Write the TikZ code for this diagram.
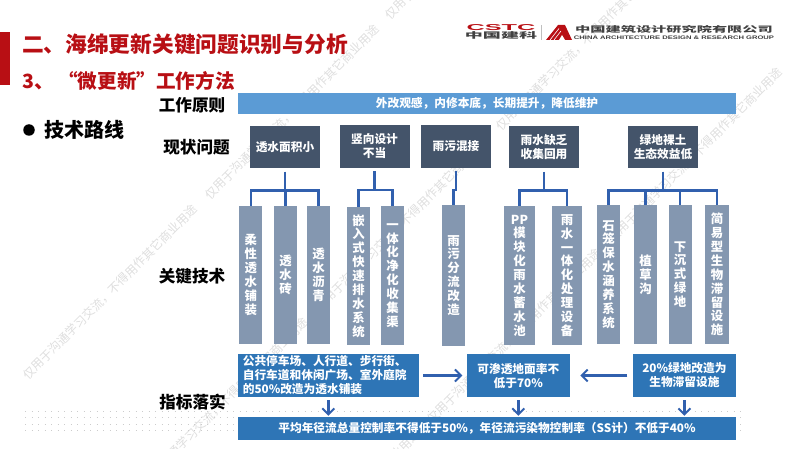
\documentclass[tikz,border=0pt]{standalone}
\usepackage{fontspec}
\setmainfont{Noto Sans CJK SC}
\newfontfamily\logofont{Liberation Sans}
\usetikzlibrary{arrows.meta}
\definecolor{titlered}{HTML}{B80F14}
\definecolor{barblue}{HTML}{5B9BD5}
\definecolor{slatebox}{HTML}{44546A}
\definecolor{greybox}{HTML}{8497B0}
\definecolor{deepblue}{HTML}{2E75B6}
\definecolor{linkblue}{HTML}{3160AE}
\begin{document}
\begin{tikzpicture}[x=1pt,y=-1pt,
  sizedtext/.style={font=\fontsize{#1}{14}\selectfont\bfseries},
  rowlabel/.style={sizedtext=16.6,text=black,inner sep=0},
  probox/.style={fill=slatebox,text=white,align=center,inner sep=0,sizedtext=11.7,minimum width=70,minimum height=42.5},
  techbox/.style={fill=greybox,text=white,align=center,inner sep=0,minimum height=138.5,font=\fontsize{12.4}{13.9}\selectfont\bfseries},
  goalbox/.style={fill=deepblue,text=white,inner sep=0,minimum height=43.5,sizedtext=11.7},
  tree/.style={draw=linkblue,line width=2.4pt,shorten <=3.5pt},
  goalarrow/.style={draw=linkblue,line width=2.5pt,-{Straight Barb[length=6pt,width=12pt,line width=2pt]}}]
\useasboundingbox (0,0) rectangle (800,449);

\begin{scope}
\clip (0,0) rectangle (800,449);
\foreach \wx/\wy [count=\i] in {25/377,207/197,387/17,136/490,317/309,498/128,248/602,429/421,610/240}
  \node[rotate=45,anchor=west,inner sep=0,text=black!13,font=\fontsize{12}{14}\selectfont] (mark\i) at (\wx,\wy) {仅用于沟通学习交流，不得用作其它商业用途};
\end{scope}
\foreach \y in {411,417.5,424,430}
  \draw[black!20,line width=0.7pt,dash pattern=on 0.7pt off 5.8pt] (25,\y) -- (742,\y);

\fill[titlered] (0,32) rectangle (10,85);
\node[anchor=west,inner sep=0,text=titlered,sizedtext=21.7] (title) at (22,44.5) {二、海绵更新关键问题识别与分析};
\node[anchor=west,inner sep=0,text=titlered,sizedtext=19.6] (subtitle) at (22,81) {3、 “微更新”工作方法};
\node[circle,fill=black,inner sep=0,minimum size=11.5] (bullet) at (29,130) {};
\node[anchor=west,inner sep=0,sizedtext=20] (route) at (44,130) {技术路线};

\node[rowlabel] (rule) at (192,105) {工作原则};
\node[rowlabel] (issue) at (196.5,147) {现状问题};
\node[rowlabel] (tech) at (192,276) {关键技术};
\node[rowlabel] (goal) at (192.5,402) {指标落实};

\node[fill=barblue,text=white,inner sep=0,minimum width=498,minimum height=21.5,sizedtext=11.7] (principle) at (487,103.7) {外改观感，内修本底，长期提升，降低维护};

\node[probox] (p1) at (285,147) {透水面积小};
\node[probox] (p2) at (374.5,146.5) {竖向设计\\不当};
\node[probox] (p3) at (456,146.5) {雨污混接};
\node[probox] (p4) at (544,147) {雨水缺乏\\收集回用};
\node[probox] (p5) at (663,147) {绿地裸土\\生态效益低};

\node[techbox,minimum width=23] (t1) at (250.7,275) {柔\\性\\透\\水\\铺\\装};
\node[techbox,minimum width=23] (t2) at (285.5,275) {透\\水\\砖};
\node[techbox,minimum width=23] (t3) at (318.5,275) {透\\水\\沥\\青};
\node[techbox,minimum width=23] (t4) at (358.5,276) {嵌\\入\\式\\快\\速\\排\\水\\系\\统};
\node[techbox,minimum width=23] (t5) at (392.5,275.5) {一\\体\\化\\净\\化\\收\\集\\渠};
\node[techbox,minimum width=23,minimum height=141] (t6) at (453.5,275.5) {雨\\污\\分\\流\\改\\造};
\node[techbox,minimum width=31] (t7) at (519.5,275.5) {PP\\模\\块\\化\\雨\\水\\蓄\\水\\池};
\node[techbox,minimum width=30] (t8) at (567,275.5) {雨\\水\\一\\体\\化\\处\\理\\设\\备};
\node[techbox,minimum width=23] (t9) at (608.5,274.5) {石\\笼\\保\\水\\涵\\养\\系\\统};
\node[techbox,minimum width=23] (t10) at (645.5,274.5) {植\\草\\沟};
\node[techbox,minimum width=23] (t11) at (680,274.5) {下\\沉\\式\\绿\\地};
\node[techbox,minimum width=24] (t12) at (717,274.5) {简\\易\\型\\生\\物\\滞\\留\\设\\施};

\foreach \leaf in {t1,t2,t3} \draw[tree] (p1.south) -- ++(0,22) -| (\leaf.north);
\foreach \leaf in {t4,t5} \draw[tree] (p2.south) -- ++(0,22) -| (\leaf.north);
\draw[tree] (p3.south) -- ++(0,22) -| (t6.north);
\foreach \leaf in {t7,t8} \draw[tree] (p4.south) -- ++(0,22) -| (\leaf.north);
\foreach \leaf in {t9,t10,t11,t12} \draw[tree] (p5.south) -- ++(0,22) -| (\leaf.north);

\node[goalbox,minimum width=181,align=left,text width=171] (g1) at (328.3,375.5) {公共停车场、人行道、步行街、\\自行车道和休闲广场、室外庭院\\的50\%改造为透水铺装};
\node[goalbox,minimum width=103.5,align=center] (g2) at (518.3,375.5) {可渗透地面率不\\低于70\%};
\node[goalbox,minimum width=103.5,align=center] (g3) at (684.4,375.5) {20\%绿地改造为\\生物滞留设施};
\node[fill=deepblue,text=white,inner sep=0,minimum width=498,minimum height=23,sizedtext=11.7] (target) at (487,428.5) {平均年径流总量控制率不得低于50\%，年径流污染物控制率（SS计）不低于40\%};

\draw[goalarrow,shorten <=4pt,shorten >=4pt] (g1.east) -- (g2.west);
\draw[goalarrow,shorten <=5pt,shorten >=10pt] (g3.west) -- (g2.east);
\foreach \src in {g1,g2,g3}
  \draw[goalarrow,shorten <=3pt,shorten >=1pt] (\src.south) -- (\src.south |- target.north);

\node[inner sep=0,text=titlered] (cstc) at (501,27.5) {\scalebox{2.8}[0.95]{\logofont\bfseries\fontsize{9}{10}\selectfont CSTC}};
\node[inner sep=0,text=black!75] (cadg) at (501,35) {\scalebox{1.9}[0.85]{\fontsize{9.5}{10}\selectfont\bfseries 中国建科}};
\draw[black!25,line width=0.5pt] (541,25) -- (541,40);
\fill[titlered] (546,40) -- (558,25) -- (565,25) -- (572,40) -- cycle;
\draw[white,line width=0.6pt] (550,40) -- (559,28.5) (554,40) -- (561,31);
\fill[white] (559,40) -- (562,35) -- (565,40) -- cycle;
\node[inner sep=0,text=black!75] (cnname) at (674,29.5) {\scalebox{1.6}[0.85]{\fontsize{9.5}{10}\selectfont\bfseries 中国建筑设计研究院有限公司}};
\node[inner sep=0,text=black!75] (enname) at (674,38) {\scalebox{1.19}[0.8]{\logofont\bfseries\fontsize{6.4}{7}\selectfont CHINA ARCHITECTURE DESIGN \& RESEARCH GROUP}};
\end{tikzpicture}
\end{document}
